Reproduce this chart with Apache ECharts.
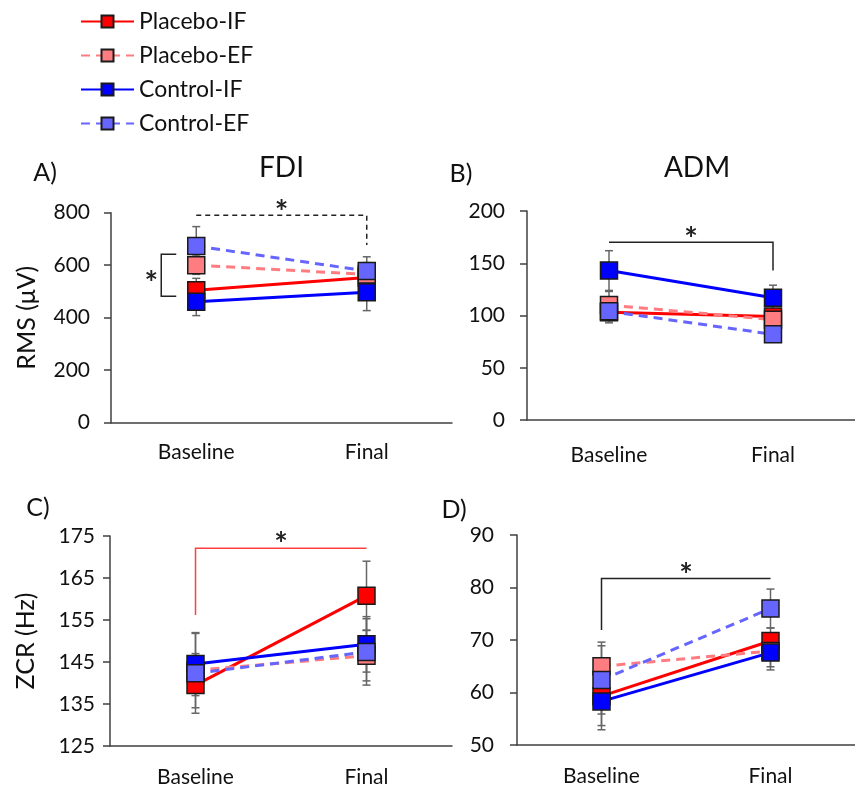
<!DOCTYPE html>
<html><head><meta charset="utf-8">
<script src="https://cdn.jsdelivr.net/npm/echarts@6/dist/echarts.min.js"></script>
<style>html,body{margin:0;padding:0;background:#fff}#c{width:855px;height:790px}</style>
</head><body><div id="c"></div>
<script>
// ---------- data ----------
const categories = ['Baseline', 'Final'];
const seriesNames = ['Placebo-IF', 'Placebo-EF', 'Control-IF', 'Control-EF'];

// A) FDI – RMS (µV)
const fdiPlaceboIF = [505, 553];   const fdiPlaceboIFErr = [45, 50];
const fdiPlaceboEF = [600, 565];   const fdiPlaceboEFErr = [35, 45];
const fdiControlIF = [461, 497];   const fdiControlIFErr = [53, 70];
const fdiControlEF = [673, 578];   const fdiControlEFErr = [74, 54];

// B) ADM – RMS (µV)
const admPlaceboIF = [103, 99];    const admPlaceboIFErr = [8, 6];
const admPlaceboEF = [110, 96];    const admPlaceboEFErr = [13, 8];
const admControlIF = [143, 117];   const admControlIFErr = [19, 12];
const admControlEF = [104, 82];    const admControlEFErr = [11, 7];

// C) FDI – ZCR (Hz)
const zcrFdiPlaceboIF = [139.5, 160.8]; const zcrFdiPlaceboIFErr = [5.4, 8.2];
const zcrFdiPlaceboEF = [143, 146.5];   const zcrFdiPlaceboEFErr = [4, 6];
const zcrFdiControlIF = [144.5, 149.2]; const zcrFdiControlIFErr = [7.5, 6.6];
const zcrFdiControlEF = [142.3, 147.4]; const zcrFdiControlEFErr = [9.5, 7.9];

// D) ADM – ZCR (Hz)
const zcrAdmPlaceboIF = [59.3, 69.8];   const zcrAdmPlaceboIFErr = [5.6, 2.5];
const zcrAdmPlaceboEF = [65, 67.9];     const zcrAdmPlaceboEFErr = [4.6, 3];
const zcrAdmControlIF = [58.3, 67.6];   const zcrAdmControlIFErr = [5.4, 3.3];
const zcrAdmControlEF = [62.4, 76];     const zcrAdmControlEFErr = [6.5, 3.7];

// axis ranges
const yRanges = [
  { min: 0, max: 800, interval: 200 },
  { min: 0, max: 200, interval: 50 },
  { min: 125, max: 175, interval: 10 },
  { min: 50, max: 90, interval: 10 }
];
const panelTitles = ['FDI', 'ADM', '', ''];
const panelLetters = ['A)', 'B)', 'C)', 'D)'];
const yNames = ['RMS (\u03bcV)', '', 'ZCR (Hz)', ''];

// significance annotations (data units)
const sigA = { y: 790, drop: 677, left: [642, 482] };
const sigB = { y: 170, drop: 143 };
const sigC = { from: 156.2, y: 172.1 };
const sigD = { from: 71.9, y: 81.7 };

// ---------- styling ----------
const FONT = 'Lato';
const TXT = '#111';
const colors = ['#FF0000', '#FF7C80', '#0000FF', '#6666FF'];
const dashed = [false, true, false, true];

const panels = [
  [fdiPlaceboIF, fdiPlaceboEF, fdiControlIF, fdiControlEF],
  [admPlaceboIF, admPlaceboEF, admControlIF, admControlEF],
  [zcrFdiPlaceboIF, zcrFdiPlaceboEF, zcrFdiControlIF, zcrFdiControlEF],
  [zcrAdmPlaceboIF, zcrAdmPlaceboEF, zcrAdmControlIF, zcrAdmControlEF]
];
const panelErrs = [
  [fdiPlaceboIFErr, fdiPlaceboEFErr, fdiControlIFErr, fdiControlEFErr],
  [admPlaceboIFErr, admPlaceboEFErr, admControlIFErr, admControlEFErr],
  [zcrFdiPlaceboIFErr, zcrFdiPlaceboEFErr, zcrFdiControlIFErr, zcrFdiControlEFErr],
  [zcrAdmPlaceboIFErr, zcrAdmPlaceboEFErr, zcrAdmControlIFErr, zcrAdmControlEFErr]
];

const grids = [
  { left: 111, top: 212.7, width: 341, height: 210 },
  { left: 527, top: 211, width: 340, height: 209 },
  { left: 110, top: 536, width: 342, height: 210 },
  { left: 517, top: 535, width: 352, height: 210 }
];
const yLabelMargins = [21, 22, 15, 23];
const xLabelMargins = [19, 25, 21, 21];
const yNameGaps = [72, 0, 72, 0];

const chart = echarts.init(document.getElementById('c'), null, { renderer: 'canvas' });

const xAxes = [], yAxes = [], series = [];
grids.forEach((g, i) => {
  xAxes.push({
    gridIndex: i, type: 'category', data: categories, boundaryGap: true,
    axisLine: { lineStyle: { color: '#404040', width: 1.5 } },
    axisTick: { show: false },
    axisLabel: { fontFamily: FONT, fontSize: 21, color: TXT, margin: xLabelMargins[i] }
  });
  yAxes.push({
    gridIndex: i, type: 'value', min: yRanges[i].min, max: yRanges[i].max, interval: yRanges[i].interval,
    axisLine: { show: true, lineStyle: { color: '#404040', width: 1.5 } },
    axisTick: { show: true, length: 7, lineStyle: { color: '#404040', width: 1.5 } },
    splitLine: { show: false },
    axisLabel: { fontFamily: FONT, fontSize: 21, color: TXT, margin: yLabelMargins[i] },
    name: yNames[i], nameLocation: 'middle', nameGap: yNameGaps[i],
    nameTextStyle: { fontFamily: FONT, fontSize: 25, color: TXT }
  });
  // error bars
  const errData = [];
  panels[i].forEach((vals, s) => {
    vals.forEach((v, c) => errData.push([c, v, panelErrs[i][s][c]]));
  });
  series.push({
    type: 'custom', xAxisIndex: i, yAxisIndex: i, z: 1, silent: true,
    data: errData,
    renderItem: function (params, api) {
      const c = api.value(0), v = api.value(1), e = api.value(2);
      const top = api.coord([c, v + e]);
      const bot = api.coord([c, v - e]);
      const hw = 4;
      const st = { stroke: '#666', lineWidth: 1.5 };
      return {
        type: 'group', children: [
          { type: 'line', shape: { x1: top[0], y1: top[1], x2: bot[0], y2: bot[1] }, style: st },
          { type: 'line', shape: { x1: top[0] - hw, y1: top[1], x2: top[0] + hw, y2: top[1] }, style: st },
          { type: 'line', shape: { x1: bot[0] - hw, y1: bot[1], x2: bot[0] + hw, y2: bot[1] }, style: st }
        ]
      };
    }
  });
  panels[i].forEach((vals, s) => {
    series.push({
      name: seriesNames[s], type: 'line', xAxisIndex: i, yAxisIndex: i, z: 2,
      data: vals, symbol: 'rect', symbolSize: 17,
      lineStyle: { color: colors[s], width: 3, type: dashed[s] ? [9, 6] : 'solid' },
      itemStyle: { color: colors[s], borderColor: '#1a1a1a', borderWidth: 1.5 },
      emphasis: { disabled: true }
    });
  });
});

const option = {
  animation: false,
  backgroundColor: '#fff',
  textStyle: { fontFamily: FONT },
  legend: {
    orient: 'vertical', left: 80, top: 10, padding: 0,
    itemWidth: 53, itemHeight: 15, itemGap: 11,
    textStyle: { fontFamily: FONT, fontSize: 23, color: TXT },
    data: seriesNames
  },
  grid: grids,
  xAxis: xAxes,
  yAxis: yAxes,
  series: series
};
chart.setOption(option);

// ---------- annotations / titles ----------
function P(gi, cat, v) { return chart.convertToPixel({ xAxisIndex: gi, yAxisIndex: gi }, [cat, v]); }
const black = '#222';
const gfx = [];
function poly(points, stroke, dash) {
  gfx.push({ type: 'polyline', shape: { points: points }, style: { stroke: stroke, lineWidth: 1.5, fill: null, lineDash: dash || null }, z: 10 });
}
function star(x, y) {
  gfx.push({ type: 'text', x: x, y: y, style: { text: '*', font: 'bold 32px ' + FONT, fill: black, align: 'center', verticalAlign: 'middle' }, z: 10 });
}
function label(x, y, t, size) {
  gfx.push({ type: 'text', x: x, y: y, style: { text: t, font: size + 'px ' + FONT, fill: TXT, align: 'center', verticalAlign: 'middle' }, z: 10 });
}
// A
{
  const a0 = P(0, 'Baseline', sigA.y), a1 = P(0, 'Final', sigA.y), a2 = P(0, 'Final', sigA.drop);
  poly([a0, a1, a2], black, [5, 4]);
  star((a0[0] + a1[0]) / 2, a0[1] - 2);
  const t = P(0, 'Baseline', sigA.left[0]), b = P(0, 'Baseline', sigA.left[1]);
  poly([[t[0] - 20, t[1]], [t[0] - 35, t[1]], [b[0] - 35, b[1]], [b[0] - 20, b[1]]], black);
  star(t[0] - 45, (t[1] + b[1]) / 2 + 10);
}
// B
{
  const a0 = P(1, 'Baseline', sigB.y), a1 = P(1, 'Final', sigB.y), a2 = P(1, 'Final', sigB.drop);
  poly([a0, a1, a2], black);
  star((a0[0] + a1[0]) / 2, a0[1] - 2);
}
// C
{
  const a0 = P(2, 'Baseline', sigC.from), a1 = P(2, 'Baseline', sigC.y), a2 = P(2, 'Final', sigC.y);
  poly([a0, a1, a2], '#FF4040');
  star((a1[0] + a2[0]) / 2, a1[1] - 2);
}
// D
{
  const a0 = P(3, 'Baseline', sigD.from), a1 = P(3, 'Baseline', sigD.y), a2 = P(3, 'Final', sigD.y);
  poly([a0, a1, a2], black);
  star((a1[0] + a2[0]) / 2, a1[1] - 2);
}
// titles and panel letters
label(grids[0].left + grids[0].width / 2, 168, panelTitles[0], 28);
label(grids[1].left + grids[1].width / 2, 168, panelTitles[1], 28);
label(45, 173, panelLetters[0], 25);
label(461, 174, panelLetters[1], 25);
label(38, 508, panelLetters[2], 25);
label(454, 510, panelLetters[3], 25);

chart.setOption({ graphic: gfx });
</script>
</body></html>
